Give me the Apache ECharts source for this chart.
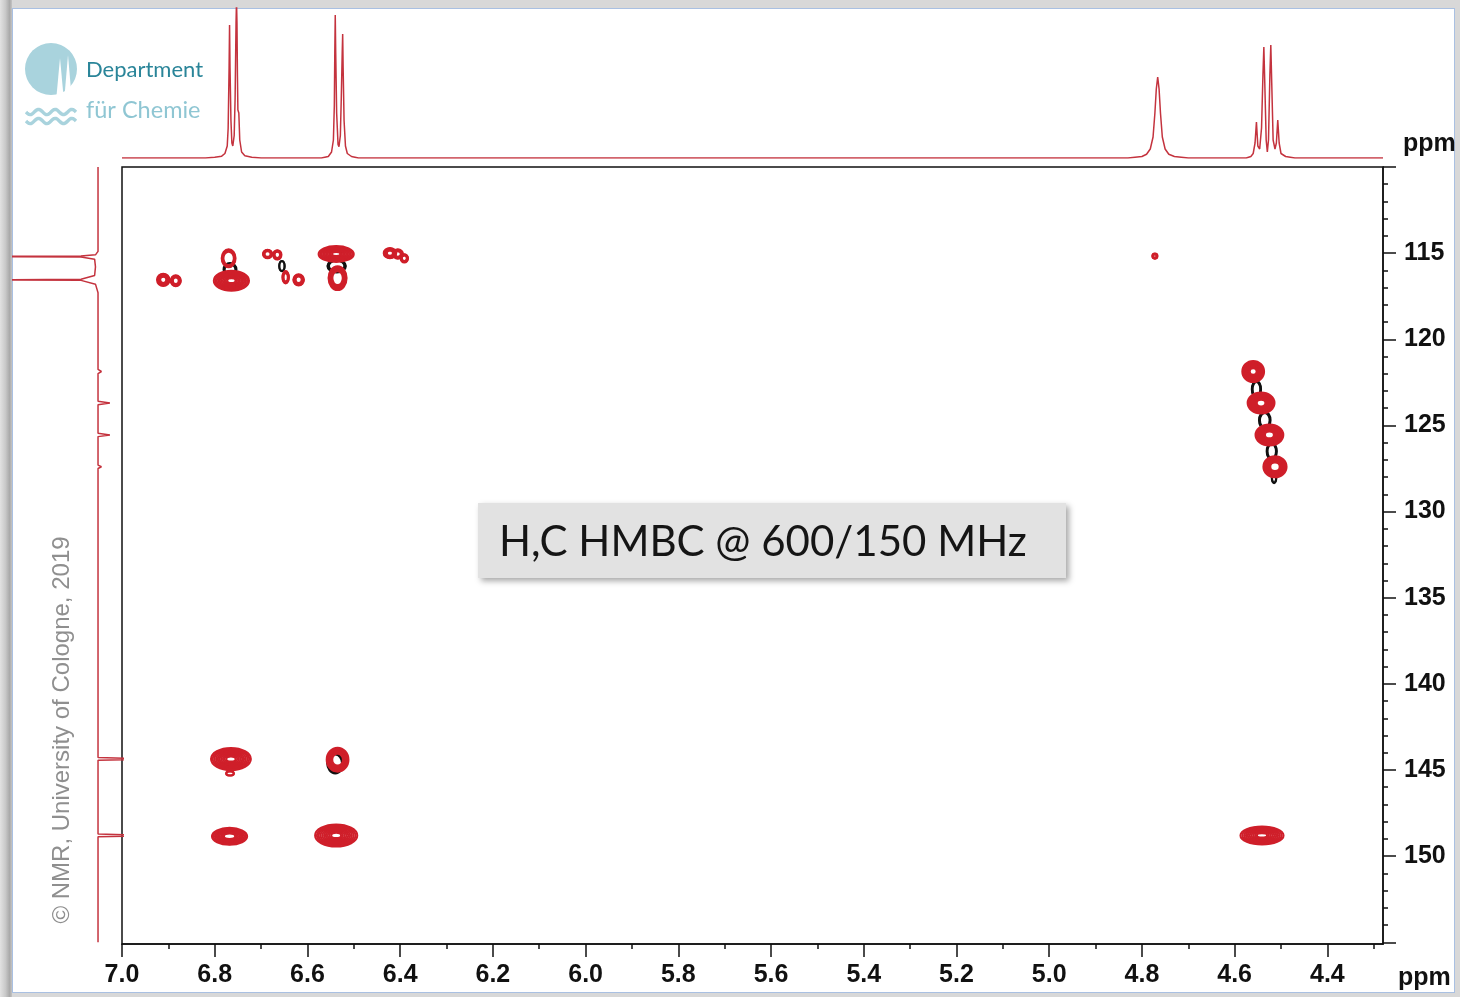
<!DOCTYPE html>
<html>
<head>
<meta charset="utf-8">
<script src="https://cdn.jsdelivr.net/npm/echarts@6/dist/echarts.min.js"></script>
<style>
  html, body { margin: 0; padding: 0; width: 1460px; height: 997px; overflow: hidden; background: #d8d8d8; }
  #leftshade { position: absolute; left: 0; top: 0; width: 12px; height: 997px;
    background: linear-gradient(to right, #e2e2e2 0%, #c9c9c9 45%, #a9a9a9 80%, #c4c4c4 100%); }
  #panel { position: absolute; left: 12px; top: 8px; width: 1443px; height: 985px; background: #ffffff;
    border: 1px solid #a9c0e2; box-sizing: border-box; }
  #chart { position: absolute; left: 0; top: 0; width: 1460px; height: 997px; }
</style>
</head>
<body>
<div id="leftshade"></div>
<div id="panel"></div>
<div id="chart"></div>
<script>
// ---------- DATA ----------
// 1H axis (ppm) ticks
const xMajorTicks = [7.0, 6.8, 6.6, 6.4, 6.2, 6.0, 5.8, 5.6, 5.4, 5.2, 5.0, 4.8, 4.6, 4.4];
const xMinorTicks = [6.9, 6.7, 6.5, 6.3, 6.1, 5.9, 5.7, 5.5, 5.3, 5.1, 4.9, 4.7, 4.5, 4.3];
// 13C axis (ppm) ticks
const yMajorTicks = [110, 115, 120, 125, 130, 135, 140, 145, 150, 155];
const yTickLabels = [115, 120, 125, 130, 135, 140, 145, 150];
const yMinorTicks = [111,112,113,114,116,117,118,119,121,122,123,124,126,127,128,129,131,132,133,134,
                     136,137,138,139,141,142,143,144,146,147,148,149,151,152,153,154];

// 1H projection trace: [ppm, relative intensity]
const protonTrace = [
  [7.00,0.00],[6.82,0.00],[6.80,0.005],[6.785,0.012],[6.778,0.03],[6.773,0.08],[6.771,0.2],[6.769,0.6],
  [6.768,0.887],[6.767,0.6],[6.765,0.25],[6.763,0.10],[6.761,0.08],[6.758,0.15],[6.756,0.4],[6.754,0.9],
  [6.753,1.05],[6.752,0.9],[6.751,0.55],[6.750,0.32],[6.748,0.30],[6.746,0.12],[6.742,0.04],[6.735,0.015],
  [6.72,0.005],[6.70,0.0],
  [6.57,0.0],[6.555,0.01],[6.548,0.04],[6.544,0.12],[6.542,0.35],[6.541,0.7],[6.540,0.953],[6.539,0.7],
  [6.537,0.3],[6.534,0.09],[6.532,0.075],[6.529,0.15],[6.527,0.4],[6.525,0.7],[6.524,0.827],[6.523,0.6],
  [6.521,0.25],[6.518,0.08],[6.514,0.03],[6.505,0.01],[6.49,0.0],
  [4.83,0.0],[4.80,0.01],[4.79,0.025],[4.782,0.06],[4.776,0.14],[4.772,0.30],[4.769,0.46],[4.766,0.54],
  [4.763,0.46],[4.760,0.30],[4.756,0.14],[4.750,0.06],[4.742,0.025],[4.73,0.01],[4.70,0.0],
  [4.575,0.0],[4.565,0.01],[4.560,0.03],[4.556,0.1],[4.553,0.24],[4.550,0.08],[4.546,0.06],[4.542,0.2],
  [4.539,0.55],[4.537,0.74],[4.535,0.5],[4.532,0.12],[4.5295,0.04],[4.527,0.12],[4.524,0.55],[4.522,0.753],
  [4.520,0.5],[4.517,0.12],[4.513,0.06],[4.510,0.1],[4.507,0.253],[4.504,0.1],[4.500,0.03],[4.49,0.01],
  [4.47,0.0],[4.28,0.0]
];

// 13C projection trace: [relative intensity (positive = left), ppm]
const carbonTrace = [
  [0,110.0],[0,114.9],[0.03,115.1],[0.2,115.17],[1.6,115.2],[0.2,115.23],[0.04,115.35],[0.03,115.8],
  [0.04,116.3],[0.2,116.52],[1.6,116.55],[0.2,116.58],[0.03,116.8],[0,117.3],
  [0,121.75],[-0.04,121.87],[0,121.99],
  [0,123.6],[-0.14,123.7],[0,123.8],
  [0,125.45],[-0.14,125.55],[0,125.65],
  [0,127.3],[-0.04,127.4],[0,127.5],
  [0,144.28],[-0.6,144.36],[0,144.44],
  [0,148.72],[-0.6,148.8],[0,148.88],
  [0,155.0]
];

// HMBC cross peaks (positive contours): [1H ppm, 13C ppm, 1H width, 13C width, contour levels]
const crossPeaks = [
  [6.911,116.55,0.027,0.72,7],
  [6.884,116.60,0.022,0.64,6],
  [6.764,116.60,0.076,1.16,10],
  [6.770,115.30,0.030,1.04,4],
  [6.686,115.05,0.020,0.50,5],
  [6.665,115.10,0.018,0.55,5],
  [6.647,116.40,0.014,0.72,5],
  [6.619,116.55,0.023,0.66,6],
  [6.538,115.05,0.076,0.93,10],
  [6.535,116.45,0.039,1.39,6],
  [6.422,115.00,0.027,0.60,7],
  [6.405,115.05,0.022,0.55,6],
  [6.391,115.30,0.016,0.48,5],
  [4.772,115.17,0.011,0.30,5],
  [4.560,121.87,0.047,1.22,9],
  [4.543,123.70,0.058,1.22,9],
  [4.525,125.55,0.060,1.22,9],
  [4.513,127.40,0.050,1.22,8],
  [6.765,144.36,0.086,1.28,10],
  [6.767,145.20,0.017,0.25,2],
  [6.535,144.40,0.047,1.39,7],
  [6.768,148.85,0.076,0.99,9],
  [6.538,148.80,0.091,1.28,10],
  [4.541,148.80,0.093,1.04,10]
];

// weaker (black) contour levels
const weakContours = [
  [6.767,115.95,0.028,0.75,3],
  [6.537,115.75,0.040,0.75,3],
  [6.655,115.75,0.012,0.60,2],
  [4.553,122.90,0.020,1.00,3],
  [4.535,124.70,0.025,1.00,3],
  [4.520,126.50,0.022,1.00,3],
  [4.515,128.00,0.010,0.70,2],
  [6.540,144.60,0.035,1.20,3]
];

// ---------- CHART ----------
const RED = '#cf1f2a';
const TRACE = '#c4333e';
const AXISFONT = 'Liberation Sans';

function contourRenderer(color) {
  return function (params, api) {
    const c = api.coord([api.value(0), api.value(1)]);
    const s = api.size([api.value(2), api.value(3)]);
    const n = api.value(4);
    const children = [];
    for (let k = 0; k < n; k++) {
      const f = 1 - k * 0.085;
      children.push({
        type: 'ellipse',
        shape: { cx: c[0], cy: c[1], rx: Math.max(s[0] / 2 * f, 0.8), ry: Math.max(s[1] / 2 * f, 0.8) },
        style: { fill: null, stroke: color, lineWidth: 2 }
      });
    }
    return { type: 'group', children: children };
  };
}

const chart = echarts.init(document.getElementById('chart'), null, { renderer: 'canvas' });

const axisLabelStyle = { fontFamily: AXISFONT, fontWeight: 'bold', fontSize: 25, color: '#111' };

function wave(y0) {
  const p = [];
  for (let i = 0; i <= 50; i++) { p.push([26 + i, y0 + 2.6 * Math.sin(i / 50 * Math.PI * 6)]); }
  return p;
}

const option = {
  animation: false,
  backgroundColor: 'transparent',
  grid: [
    { left: 122, top: 167, width: 1261, height: 777, show: true, borderColor: '#111', borderWidth: 1.5, backgroundColor: 'transparent' },
    { left: 122, top: 8, width: 1261, height: 150 },
    { left: 13, top: 167, width: 109, height: 777 }
  ],
  xAxis: [
    { gridIndex: 0, type: 'value', min: 4.28, max: 7.0, inverse: true, position: 'bottom',
      axisLine: { show: true, lineStyle: { color: '#111', width: 1.5 } },
      axisTick: { show: true, length: 13, lineStyle: { color: '#111', width: 1.5 }, customValues: xMajorTicks },
      axisLabel: { show: true, margin: 19, customValues: xMajorTicks, formatter: v => Number(v).toFixed(1), ...axisLabelStyle },
      splitLine: { show: false } },
    { gridIndex: 0, type: 'value', min: 4.28, max: 7.0, inverse: true, position: 'bottom',
      axisLine: { show: false },
      axisTick: { show: true, length: 5, lineStyle: { color: '#111', width: 1.5 }, customValues: xMinorTicks },
      axisLabel: { show: false }, splitLine: { show: false } },
    { gridIndex: 1, type: 'value', min: 4.28, max: 7.0, inverse: true, show: false },
    { gridIndex: 2, type: 'value', min: -0.282, max: 1.0, inverse: true, show: false }
  ],
  yAxis: [
    { gridIndex: 0, type: 'value', min: 110, max: 155.1, inverse: true, position: 'right',
      axisLine: { show: true, lineStyle: { color: '#111', width: 1.5 } },
      axisTick: { show: true, length: 13, lineStyle: { color: '#111', width: 1.5 }, customValues: yMajorTicks },
      axisLabel: { show: true, margin: 21, customValues: yTickLabels, ...axisLabelStyle },
      splitLine: { show: false } },
    { gridIndex: 0, type: 'value', min: 110, max: 155.1, inverse: true, position: 'right',
      axisLine: { show: false },
      axisTick: { show: true, length: 5, lineStyle: { color: '#111', width: 1.5 }, customValues: yMinorTicks },
      axisLabel: { show: false }, splitLine: { show: false } },
    { gridIndex: 1, type: 'value', min: 0, max: 1, show: false },
    { gridIndex: 2, type: 'value', min: 110, max: 155.1, inverse: true, show: false }
  ],
  series: [
    { type: 'line', xAxisIndex: 2, yAxisIndex: 2, data: protonTrace, showSymbol: false, clip: true,
      lineStyle: { color: TRACE, width: 1.5 }, z: 3 },
    { type: 'line', xAxisIndex: 3, yAxisIndex: 3, data: carbonTrace, showSymbol: false, clip: true,
      lineStyle: { color: TRACE, width: 1.5 }, z: 3 },
    { type: 'custom', xAxisIndex: 0, yAxisIndex: 0, data: weakContours, clip: true,
      renderItem: contourRenderer('#111111'), z: 4 },
    { type: 'custom', xAxisIndex: 0, yAxisIndex: 0, data: crossPeaks, clip: true,
      renderItem: contourRenderer(RED), z: 5 }
  ],
  graphic: [
    // axis unit labels
    { type: 'text', x: 1403, y: 144, style: { text: 'ppm', fontFamily: AXISFONT, fontWeight: 'bold', fontSize: 25, fill: '#111', verticalAlign: 'middle' } },
    { type: 'text', x: 1398, y: 978, style: { text: 'ppm', fontFamily: AXISFONT, fontWeight: 'bold', fontSize: 25, fill: '#111', verticalAlign: 'middle' } },
    // title box
    { type: 'rect', shape: { x: 478, y: 503, width: 588, height: 75 },
      style: { fill: '#e2e2e2', shadowBlur: 6, shadowColor: 'rgba(0,0,0,0.35)', shadowOffsetX: 3, shadowOffsetY: 3 }, z: 10 },
    { type: 'text', x: 499, y: 542, z: 11,
      style: { text: 'H,C HMBC @ 600/150 MHz', fontFamily: 'Lato', fontSize: 42, fill: '#151515', verticalAlign: 'middle' } },
    // watermark
    { type: 'text', x: 62, y: 730, rotation: Math.PI / 2,
      style: { text: '© NMR, University of Cologne, 2019', fontFamily: 'Liberation Sans', fontSize: 24, fill: '#8f8f8f', align: 'center', verticalAlign: 'middle' } },
    // logo
    { type: 'circle', shape: { cx: 51, cy: 69, r: 26 }, style: { fill: '#a9d3dd' } },
    { type: 'polygon', shape: { points: [[56.5,96],[60,58],[63.5,96]] }, style: { fill: '#ffffff' } },
    { type: 'polygon', shape: { points: [[64.5,96],[68,55],[71.5,96]] }, style: { fill: '#ffffff' } },
    { type: 'polyline', shape: { points: wave(112) }, style: { stroke: '#a9d3dd', lineWidth: 3.4, fill: null } },
    { type: 'polyline', shape: { points: wave(121) }, style: { stroke: '#a9d3dd', lineWidth: 3.4, fill: null } },
    { type: 'text', x: 86, y: 70, style: { text: 'Department', fontFamily: 'Lato', fontSize: 22, fill: '#2a8599', verticalAlign: 'middle' } },
    { type: 'text', x: 86, y: 110, style: { text: 'für Chemie', fontFamily: 'Lato', fontSize: 23.5, fill: '#8fc6d3', verticalAlign: 'middle' } }
  ]
};

chart.setOption(option);
</script>
</body>
</html>
